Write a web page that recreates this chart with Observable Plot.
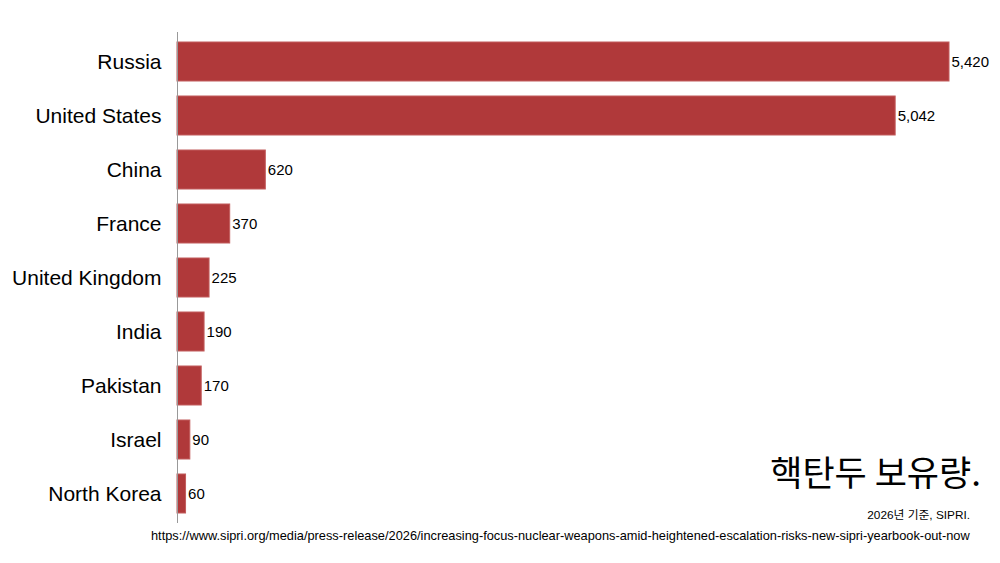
<!DOCTYPE html>
<html>
<head>
<meta charset="utf-8">
<script src="https://cdn.jsdelivr.net/npm/d3@7"></script>
<script src="https://cdn.jsdelivr.net/npm/@observablehq/plot@0.6"></script>
<style>
  html, body { margin: 0; padding: 0; background: #fff; }
  #wrap { position: relative; width: 1000px; height: 563px; font-family: "Liberation Sans", Arial, sans-serif; }
  #title { position: absolute; right: 19px; top: 450px; font-family: "Noto Sans CJK KR", sans-serif; font-size: 35px; color: #000; white-space: nowrap; line-height: 1.2; }
  #sub { position: absolute; right: 30px; top: 505px; font-family: "Liberation Sans", "Noto Sans CJK KR", sans-serif; font-size: 11.8px; color: #000; white-space: nowrap; }
  #url { position: absolute; left: 151px; top: 528px; font-family: "Liberation Sans", Arial, sans-serif; font-size: 12.8px; color: #000; white-space: nowrap; }
</style>
</head>
<body>
<div id="wrap">
  <div id="chart"></div>
  <div id="title">핵탄두 보유량.</div>
  <div id="sub">2026년 기준, SIPRI.</div>
  <div id="url">https://www.sipri.org/media/press-release/2026/increasing-focus-nuclear-weapons-amid-heightened-escalation-risks-new-sipri-yearbook-out-now</div>
</div>
<script>
const countries = ["Russia", "United States", "China", "France", "United Kingdom", "India", "Pakistan", "Israel", "North Korea"];
const warheads = [5420, 5042, 620, 370, 225, 190, 170, 90, 60];

const data = countries.map((c, i) => ({country: c, value: warheads[i]}));

const chart = Plot.plot({
  width: 1000,
  height: 563,
  marginTop: 32,
  marginBottom: 40,
  marginLeft: 177,
  marginRight: 51,
  style: {fontFamily: "'Liberation Sans', Arial, sans-serif", background: "#fff"},
  x: {domain: [0, 5420], axis: null},
  y: {domain: countries, paddingInner: 0.285, paddingOuter: 0.13, label: null},
  marks: [
    Plot.barX(data, {x: "value", y: "country", fill: "#b0393a", stroke: "#c25c5c", strokeWidth: 1}),
    Plot.text(data, {x: "value", y: "country", text: d => d3.format(",")(d.value), textAnchor: "start", dx: 2, fontSize: 15, fill: "#000"}),
    Plot.ruleX([0], {stroke: "#999", strokeWidth: 1}),
    Plot.axisY({tickSize: 0, tickPadding: 16, fontSize: 21, label: null, fill: "#000"})
  ]
});
document.getElementById("chart").appendChild(chart);
</script>
</body>
</html>
